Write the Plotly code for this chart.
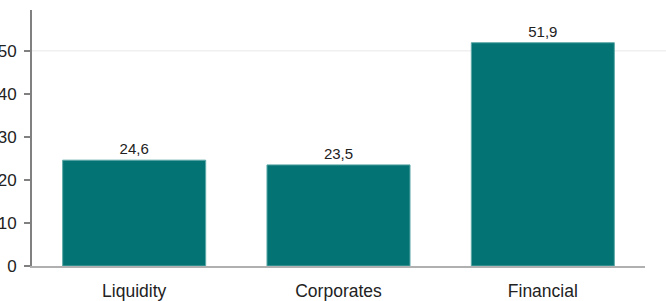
import plotly.graph_objects as go

categories = ["Liquidity", "Corporates", "Financial"]
values = [24.6, 23.5, 51.9]
y_ticks = [0, 10, 20, 30, 40, 50]

fig = go.Figure(go.Bar(
    x=categories, y=values,
    marker=dict(color="#037373", line=dict(color="#5fa8a8", width=1)),
    texttemplate="%{y:.1f}", textposition="outside",
    textfont=dict(family="Liberation Sans, Arial", size=15, color="#222222"),
    cliponaxis=False,
))

fig.add_shape(type="line", xref="paper", yref="y", x0=0, x1=1.04, y0=50, y1=50,
              line=dict(color="#e8e8e8", width=1), layer="below")

fig.update_layout(
    width=666, height=301,
    margin=dict(l=32, r=21, t=10, b=35, autoexpand=False),
    paper_bgcolor="white", plot_bgcolor="white",
    separators=",.",
    bargap=0.3,
    showlegend=False,
    font=dict(family="Liberation Sans, Arial", size=15, color="#222222"),
    xaxis=dict(showline=True, linecolor="#b0b0b0", linewidth=2, ticks="",
               showgrid=False, ticklabelstandoff=8, automargin=False,
               tickfont=dict(size=17.5, color="#222222")),
    yaxis=dict(range=[0, 59.5], tickvals=y_ticks, showgrid=False, zeroline=False,
               showline=True, linecolor="#808080", linewidth=2, automargin=False,
               ticks="outside", ticklen=6, tickcolor="#808080", tickwidth=2,
               ticklabelstandoff=4,
               tickfont=dict(size=17, color="#222222")),
)

fig.write_html("out.html", config={"displayModeBar": False},
               post_script="document.body.style.margin='0';document.body.style.overflow='hidden';")
